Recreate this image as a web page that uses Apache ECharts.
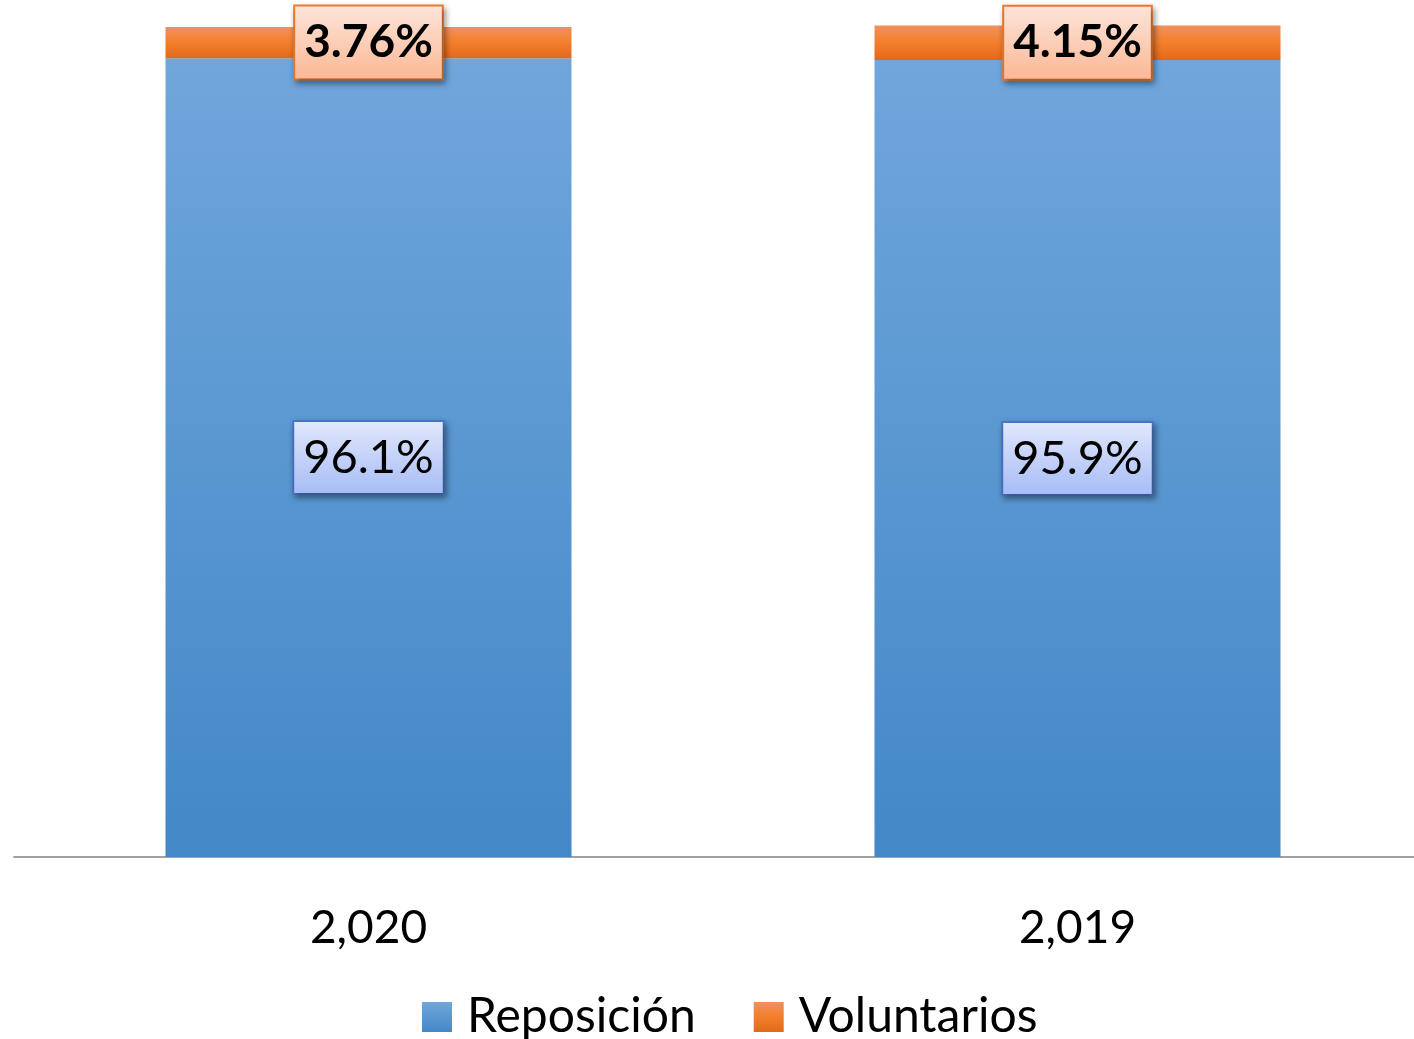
<!DOCTYPE html>
<html>
<head>
<meta charset="utf-8">
<script src="https://cdn.jsdelivr.net/npm/echarts@6/dist/echarts.min.js"></script>
<style>
  html, body { margin: 0; padding: 0; background: #fff; overflow: hidden; }
  #chart { width: 1432px; height: 1039px; }
</style>
</head>
<body>
<div id="chart"></div>
<script>
// values
var years = ['2,020', '2,019'];
var reposicion = [96.1, 95.9];
var voluntarios = [3.76, 4.15];

var FONT = 'Lato, "Open Sans", sans-serif';

function grad(top, bottom) {
    return new echarts.graphic.LinearGradient(0, 0, 0, 1, [
        {offset: 0, color: top},
        {offset: 1, color: bottom}
    ]);
}

var blueFill = grad('#70a6dc', '#4388c7');
var orangeFill = new echarts.graphic.LinearGradient(0, 0, 0, 1, [
    {offset: 0, color: '#f0915c'},
    {offset: 0.5, color: '#f47e2c'},
    {offset: 1, color: '#e2691b'}
]);

var option = {
    animation: false,
    backgroundColor: '#fff',
    // the plot runs a bit past the right edge of the window, as in the original
    grid: {
        left: 14,
        right: 0,
        top: 25,
        bottom: 182
    },
    legend: {
        data: ['Reposición', 'Voluntarios'],
        left: 417,
        bottom: -7,
        icon: 'rect',
        itemWidth: 30,
        itemHeight: 30,
        itemGap: 58,
        textStyle: {
            fontFamily: FONT,
            fontSize: 48,
            color: '#000',
            padding: [0, 0, 0, 10]
        }
    },
    xAxis: {
        type: 'category',
        data: years,
        axisTick: {show: false},
        axisLine: {lineStyle: {color: '#a0a0a0', width: 2}},
        axisLabel: {
            margin: 48,
            fontFamily: FONT,
            fontSize: 46,
            color: '#000'
        }
    },
    yAxis: {
        type: 'value',
        min: 0,
        max: 100.1,
        show: false,
        splitLine: {show: false}
    },
    series: [
        {
            name: 'Reposición',
            type: 'bar',
            stack: 'total',
            barWidth: 406,
            data: reposicion,
            itemStyle: {color: blueFill},
            label: {
                show: true,
                position: 'inside',
                formatter: '{c}%',
                fontFamily: FONT,
                fontSize: 47,
                color: '#000',
                backgroundColor: grad('#e2e8fd', '#a6bcf6'),
                borderColor: '#4a78c8',
                borderWidth: 2,
                padding: [12, 9, 12, 9],
                shadowColor: 'rgba(0,0,0,0.35)',
                shadowBlur: 6,
                shadowOffsetX: 2,
                shadowOffsetY: 3
            }
        },
        {
            name: 'Voluntarios',
            type: 'bar',
            stack: 'total',
            barWidth: 406,
            data: voluntarios,
            itemStyle: {color: orangeFill},
            label: {
                show: true,
                position: 'inside',
                formatter: '{c}%',
                fontFamily: FONT,
                fontWeight: 'bold',
                fontSize: 46,
                color: '#000',
                backgroundColor: grad('#fde5da', '#fbb794'),
                borderColor: '#f07d32',
                borderWidth: 2,
                padding: [13, 9, 13, 9],
                shadowColor: 'rgba(0,0,0,0.35)',
                shadowBlur: 6,
                shadowOffsetX: 2,
                shadowOffsetY: 3
            }
        }
    ]
};

var myChart = echarts.init(document.getElementById('chart'));
myChart.setOption(option);
</script>
</body>
</html>
